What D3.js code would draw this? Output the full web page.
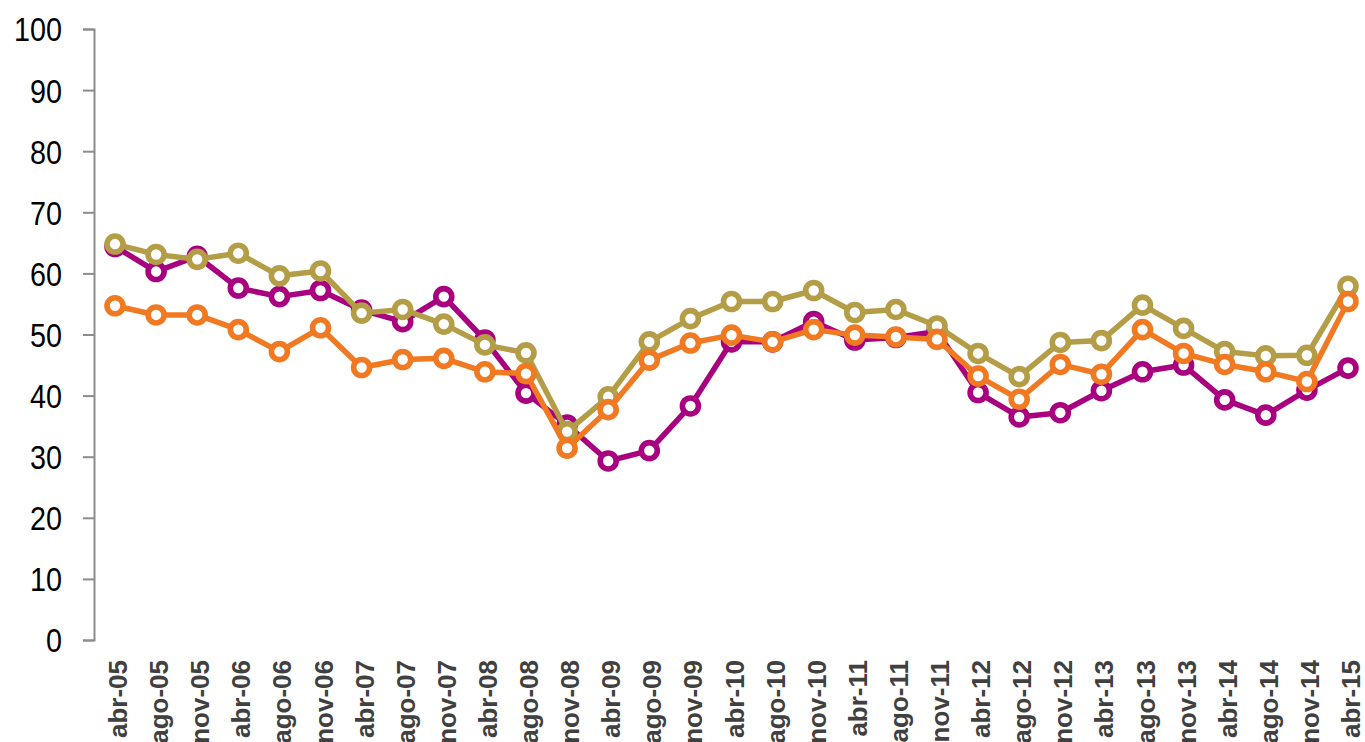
<!DOCTYPE html>
<html>
<head>
<meta charset="utf-8">
<script src="https://cdn.jsdelivr.net/npm/d3@7"></script>
<style>
  body { margin: 0; background: #fff; }
  .ytick text { font-family: "Liberation Sans", Arial, sans-serif; font-size: 34px; fill: #000; }
  .xlab { font-family: "Liberation Sans", Arial, sans-serif; font-weight: bold; font-size: 26px; fill: #404040; }
</style>
</head>
<body>
<div id="chart"></div>
<script>
var categories = ["abr-05","ago-05","nov-05","abr-06","ago-06","nov-06","abr-07","ago-07","nov-07",
    "abr-08","ago-08","nov-08","abr-09","ago-09","nov-09","abr-10","ago-10","nov-10",
    "abr-11","ago-11","nov-11","abr-12","ago-12","nov-12","abr-13","ago-13","nov-13",
    "abr-14","ago-14","nov-14","abr-15"];

var magenta_vals = [64.4, 60.3, 62.8, 57.6, 56.2, 57.2, 54.0, 52.1, 56.2,
    49.1, 40.4, 35.2, 29.3, 31.0, 38.3, 48.8, 48.8, 52.1,
    49.1, 49.5, 50.5, 40.5, 36.5, 37.2, 40.8, 43.9, 45.0,
    39.3, 36.8, 40.9, 44.5];

var olive_vals = [64.8, 63.1, 62.3, 63.3, 59.6, 60.4, 53.5, 54.1, 51.7,
    48.3, 47.0, 34.1, 39.8, 48.8, 52.6, 55.4, 55.4, 57.2,
    53.6, 54.1, 51.4, 46.9, 43.1, 48.7, 49.0, 54.8, 51.0,
    47.2, 46.5, 46.6, 57.9];

var orange_vals = [54.7, 53.2, 53.2, 50.8, 47.2, 51.1, 44.6, 45.9, 46.1,
    43.9, 43.6, 31.4, 37.7, 45.8, 48.6, 49.9, 48.8, 50.8,
    49.9, 49.6, 49.2, 43.2, 39.4, 45.1, 43.5, 50.8, 46.9,
    45.1, 43.9, 42.3, 55.4];

var y_ticks = [0, 10, 20, 30, 40, 50, 60, 70, 80, 90, 100];

var series = [
    {name: "magenta", values: magenta_vals, color: "#A8007F"},
    {name: "olive", values: olive_vals, color: "#B39D46"},
    {name: "orange", values: orange_vals, color: "#F07921"}
];

var W = 1365, H = 742;
var svg = d3.select("#chart").append("svg")
    .attr("width", W)
    .attr("height", H);

var x = d3.scalePoint().domain(categories).range([115, 1348]);
var y = d3.scaleLinear().domain([0, 100]).range([640, 29]);

// y axis
var yAxis = svg.append("g")
    .attr("class", "ytick")
    .attr("transform", "translate(94,0)")
    .call(d3.axisLeft(y).tickValues(y_ticks).tickSize(11).tickPadding(21));
yAxis.select(".domain").attr("stroke", "#8C8C8C").attr("stroke-width", 2);
yAxis.selectAll(".tick line").attr("stroke", "#8C8C8C").attr("stroke-width", 2);
// narrow digits like the original condensed face
yAxis.selectAll(".tick text")
    .attr("dy", "0.35em")
    .attr("fill", "#000")
    .attr("lengthAdjust", "spacingAndGlyphs")
    .attr("textLength", function(d){ return String(d).length * 16; });

// x labels, rotated (the bottom of the longer ones runs off the page, as in the original)
svg.selectAll(".xlab")
    .data(categories)
    .enter()
    .append("text")
        .attr("class", "xlab")
        .attr("text-anchor", "end")
        .attr("transform", function(d){
            return "translate(" + (x(d) + 12) + ",660) rotate(-90)";
        })
        .text(function(d){ return d; });

var line = d3.line()
    .x(function(d, i){ return x(categories[i]); })
    .y(function(d){ return y(d); });

series.forEach(function(s){
    var g = svg.append("g").attr("class", "series-" + s.name);
    g.append("path")
        .datum(s.values)
        .attr("fill", "none")
        .attr("stroke", s.color)
        .attr("stroke-width", 5.5)
        .attr("stroke-linejoin", "round")
        .attr("d", line);
    g.selectAll("circle")
        .data(s.values)
        .enter()
        .append("circle")
            .attr("cx", function(d, i){ return x(categories[i]); })
            .attr("cy", function(d){ return y(d); })
            .attr("r", 8)
            .attr("fill", "#fff")
            .attr("stroke", s.color)
            .attr("stroke-width", 5.6);
});
</script>
</body>
</html>
